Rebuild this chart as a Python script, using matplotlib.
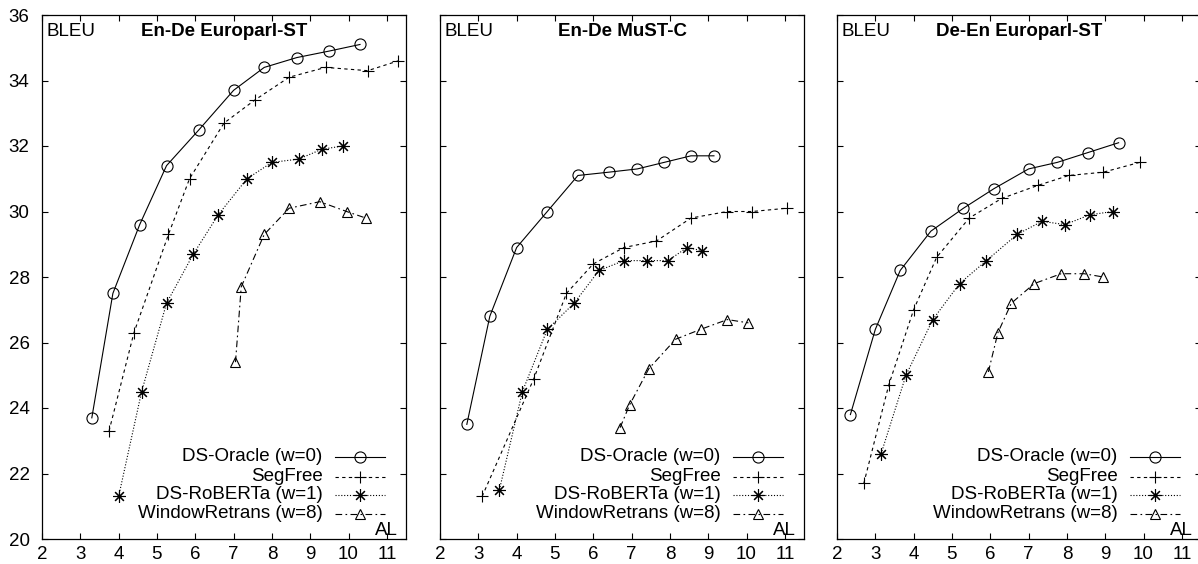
import numpy as np
import matplotlib
matplotlib.use("Agg")
from matplotlib import pyplot as plt

plt.rcParams['font.family'] = ['Liberation Sans', 'DejaVu Sans']

# panel titles
titles = ["En-De Europarl-ST", "En-De MuST-C", "De-En Europarl-ST"]
labels = ["DS-Oracle (w=0)", "SegFree", "DS-RoBERTa (w=1)", "WindowRetrans (w=8)"]

# En-De Europarl-ST
ende_ep_oracle_x = [3.3, 3.85, 4.55, 5.25, 6.1, 7.0, 7.8, 8.65, 9.5, 10.3]
ende_ep_oracle_y = [23.7, 27.5, 29.6, 31.4, 32.5, 33.7, 34.4, 34.7, 34.9, 35.1]
ende_ep_segfree_x = [3.75, 4.4, 5.3, 5.85, 6.75, 7.55, 8.45, 9.4, 10.5, 11.3]
ende_ep_segfree_y = [23.3, 26.3, 29.3, 31.0, 32.7, 33.4, 34.1, 34.4, 34.3, 34.6]
ende_ep_roberta_x = [4.0, 4.6, 5.25, 5.95, 6.6, 7.35, 8.0, 8.7, 9.3, 9.85]
ende_ep_roberta_y = [21.3, 24.5, 27.2, 28.7, 29.9, 31.0, 31.5, 31.6, 31.9, 32.0]
ende_ep_window_x = [7.05, 7.2, 7.8, 8.45, 9.25, 9.95, 10.45]
ende_ep_window_y = [25.4, 27.7, 29.3, 30.1, 30.3, 30.0, 29.8]

# En-De MuST-C
ende_mc_oracle_x = [2.7, 3.3, 4.0, 4.8, 5.6, 6.4, 7.15, 7.85, 8.55, 9.15]
ende_mc_oracle_y = [23.5, 26.8, 28.9, 30.0, 31.1, 31.2, 31.3, 31.5, 31.7, 31.7]
ende_mc_segfree_x = [3.1, 4.45, 5.3, 6.0, 6.8, 7.65, 8.55, 9.5, 10.15, 11.05]
ende_mc_segfree_y = [21.3, 24.9, 27.5, 28.4, 28.9, 29.1, 29.8, 30.0, 30.0, 30.1]
ende_mc_roberta_x = [3.55, 4.15, 4.8, 5.5, 6.15, 6.8, 7.4, 7.95, 8.45, 8.85]
ende_mc_roberta_y = [21.5, 24.5, 26.4, 27.2, 28.2, 28.5, 28.5, 28.5, 28.9, 28.8]
ende_mc_window_x = [6.7, 6.95, 7.45, 8.15, 8.8, 9.5, 10.05]
ende_mc_window_y = [23.4, 24.1, 25.2, 26.1, 26.4, 26.7, 26.6]

# De-En Europarl-ST
deen_ep_oracle_x = [2.35, 3.0, 3.65, 4.45, 5.3, 6.1, 7.0, 7.75, 8.55, 9.35]
deen_ep_oracle_y = [23.8, 26.4, 28.2, 29.4, 30.1, 30.7, 31.3, 31.5, 31.8, 32.1]
deen_ep_segfree_x = [2.7, 3.35, 4.0, 4.6, 5.45, 6.3, 7.25, 8.05, 8.95, 9.9]
deen_ep_segfree_y = [21.7, 24.7, 27.0, 28.6, 29.8, 30.4, 30.8, 31.1, 31.2, 31.5]
deen_ep_roberta_x = [3.15, 3.8, 4.5, 5.2, 5.9, 6.7, 7.35, 7.95, 8.6, 9.2]
deen_ep_roberta_y = [22.6, 25.0, 26.7, 27.8, 28.5, 29.3, 29.7, 29.6, 29.9, 30.0]
deen_ep_window_x = [5.95, 6.2, 6.55, 7.15, 7.85, 8.45, 8.95]
deen_ep_window_y = [25.1, 26.3, 27.2, 27.8, 28.1, 28.1, 28.0]

panels = [
    [(ende_ep_oracle_x, ende_ep_oracle_y), (ende_ep_segfree_x, ende_ep_segfree_y),
     (ende_ep_roberta_x, ende_ep_roberta_y), (ende_ep_window_x, ende_ep_window_y)],
    [(ende_mc_oracle_x, ende_mc_oracle_y), (ende_mc_segfree_x, ende_mc_segfree_y),
     (ende_mc_roberta_x, ende_mc_roberta_y), (ende_mc_window_x, ende_mc_window_y)],
    [(deen_ep_oracle_x, deen_ep_oracle_y), (deen_ep_segfree_x, deen_ep_segfree_y),
     (deen_ep_roberta_x, deen_ep_roberta_y), (deen_ep_window_x, deen_ep_window_y)],
]

# gnuplot-ish styles
styles = [
    dict(linestyle='-', marker='o', markersize=8, markerfacecolor='none'),
    dict(linestyle=(0, (3, 3)), marker='+', markersize=9),
    dict(linestyle=(0, (1, 1.6)), marker=(8, 2, 0), markersize=9),
    dict(linestyle=(0, (6, 3, 1.5, 3)), marker='^', markersize=7.5, markerfacecolor='none'),
]

fs = 13.5
fig = plt.figure(figsize=(11.98, 5.64), dpi=100)
lefts = [42, 440, 837]

for i, data in enumerate(panels):
    ax = fig.add_axes([lefts[i] / 1198, 25 / 564, 364 / 1198, 524 / 564])
    for (x, y), st in zip(data, styles):
        ax.plot(x, y, color='black', lw=0.8, markeredgewidth=0.8, **st)

    ax.set_xlim(2, 11.5)
    ax.set_ylim(20, 36)
    ax.set_xticks(range(2, 12))
    ax.set_yticks(range(20, 37, 2))
    ax.tick_params(direction='in', top=True, right=True, length=4, width=0.8,
                   labelsize=fs, pad=5)
    ax.tick_params(axis='y', pad=9)
    if i > 0:
        ax.tick_params(axis='y', labelleft=False)
    for s in ax.spines.values():
        s.set_linewidth(0.9)

    ax.text(0.011, 0.969, "BLEU", transform=ax.transAxes, fontsize=fs,
            ha='left', va='center')
    ax.text(0.5, 0.969, titles[i], transform=ax.transAxes, fontsize=fs,
            ha='center', va='center', fontweight='bold')
    ax.text(0.978, 0.008, "AL", transform=ax.transAxes, fontsize=fs,
            ha='right', va='baseline')

    # legend, gnuplot style (text then sample)
    rows = [0.157, 0.119, 0.084, 0.048]
    for lab, st, ry in zip(labels, styles, rows):
        ax.text(0.771, ry, lab, transform=ax.transAxes, fontsize=fs,
                ha='right', va='center')
        ax.plot([0.805, 0.942], [ry, ry], transform=ax.transAxes, color='black',
                lw=0.8, linestyle=st['linestyle'], clip_on=False)
        mst = {k: v for k, v in st.items() if k != 'linestyle'}
        ax.plot([0.874], [ry], transform=ax.transAxes, color='black',
                linestyle='none', markeredgewidth=0.8, clip_on=False, **mst)

fig.savefig("out.png", dpi=100)
